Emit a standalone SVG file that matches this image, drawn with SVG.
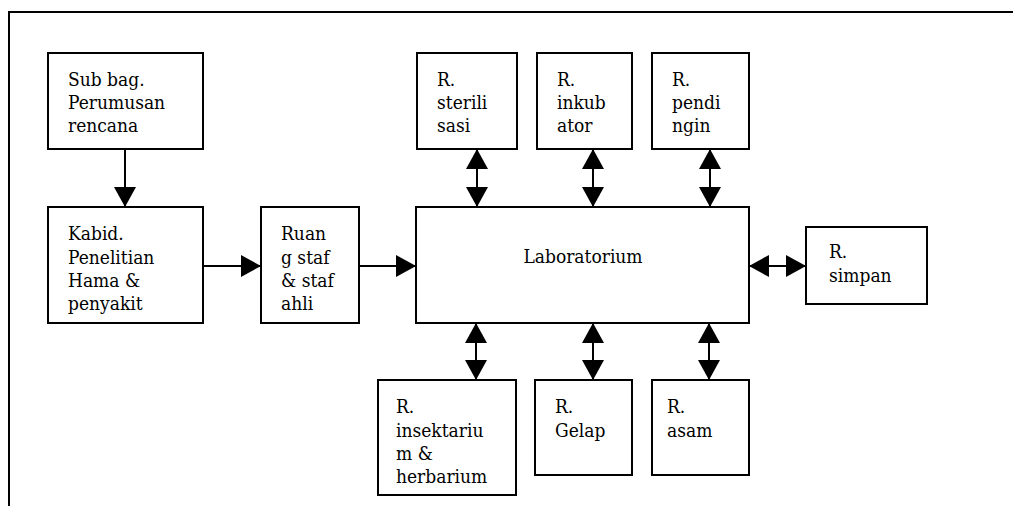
<svg xmlns="http://www.w3.org/2000/svg" width="1013" height="506" viewBox="0 0 1013 506">
  <style>
    .box { fill: #ffffff; stroke: #000000; stroke-width: 2; }
    .frame { fill: none; stroke: #000000; stroke-width: 2; }
    .link { fill: none; stroke: #000000; stroke-width: 2; }
    .one { marker-end: url(#tip); }
    .two { marker-start: url(#tip); marker-end: url(#tip); }
  </style>
  <defs>
    <marker id="tip" markerUnits="userSpaceOnUse" markerWidth="20" markerHeight="22" refX="20" refY="11" orient="auto-start-reverse" viewBox="0 0 20 22">
      <path d="M0,0 L20,11 L0,22 Z" fill="#000000"/>
    </marker>
  </defs>

  <rect width="1013" height="506" fill="#ffffff"/>

  <!-- outer frame: top and left edges only -->
  <path class="frame" d="M9,506 L9,12 L1013,12"/>

  <!-- connectors -->
  <g id="connectors">
    <line class="link one" x1="125" y1="150" x2="125" y2="207"/>
    <line class="link one" x1="203" y1="266" x2="261" y2="266"/>
    <line class="link one" x1="359" y1="266" x2="416" y2="266"/>
    <line class="link two" x1="477" y1="149" x2="477" y2="207"/>
    <line class="link two" x1="593" y1="149" x2="593" y2="207"/>
    <line class="link two" x1="710" y1="149" x2="710" y2="207"/>
    <line class="link two" x1="749" y1="266" x2="806" y2="266"/>
    <line class="link two" x1="476" y1="323" x2="476" y2="380"/>
    <line class="link two" x1="593" y1="323" x2="593" y2="380"/>
    <line class="link two" x1="709" y1="323" x2="709" y2="380"/>
  </g>

  <g font-family="'DejaVu Serif Condensed', 'DejaVu Serif', serif" font-stretch="condensed" font-size="19">
  <g id="sub-bag">
    <rect class="box" x="48" y="53" width="155" height="96"/>
    <text x="68" y="86">Sub bag.</text>
    <text x="68" y="109">Perumusan</text>
    <text x="68" y="132">rencana</text>
  </g>

  <g id="kabid">
    <rect class="box" x="48" y="207" width="155" height="116"/>
    <text x="68" y="240">Kabid.</text>
    <text x="68" y="264">Penelitian</text>
    <text x="68" y="287">Hama &amp;</text>
    <text x="68" y="310">penyakit</text>
  </g>

  <g id="ruang-staf">
    <rect class="box" x="261" y="207" width="98" height="116"/>
    <text x="281" y="240">Ruan</text>
    <text x="281" y="264">g staf</text>
    <text x="281" y="287">&amp; staf</text>
    <text x="281" y="310">ahli</text>
  </g>

  <g id="laboratorium">
    <rect class="box" x="416" y="207" width="333" height="116"/>
    <text x="583" y="263" text-anchor="middle">Laboratorium</text>
  </g>

  <g id="r-sterilisasi">
    <rect class="box" x="417" y="53" width="100" height="96"/>
    <text x="437" y="86">R.</text>
    <text x="437" y="109">sterili</text>
    <text x="437" y="132">sasi</text>
  </g>

  <g id="r-inkubator">
    <rect class="box" x="537" y="53" width="95" height="96"/>
    <text x="557" y="86">R.</text>
    <text x="557" y="109">inkub</text>
    <text x="557" y="132">ator</text>
  </g>

  <g id="r-pendingin">
    <rect class="box" x="652" y="53" width="97" height="96"/>
    <text x="672" y="86">R.</text>
    <text x="672" y="109">pendi</text>
    <text x="672" y="132">ngin</text>
  </g>

  <g id="r-simpan">
    <rect class="box" x="806" y="227" width="121" height="77"/>
    <text x="829" y="258">R.</text>
    <text x="829" y="282">simpan</text>
  </g>

  <g id="r-insektarium">
    <rect class="box" x="378" y="380" width="138" height="115"/>
    <text x="396" y="413">R.</text>
    <text x="396" y="437">insektariu</text>
    <text x="396" y="460">m &amp;</text>
    <text x="396" y="483">herbarium</text>
  </g>

  <g id="r-gelap">
    <rect class="box" x="535" y="380" width="97" height="95"/>
    <text x="555" y="413">R.</text>
    <text x="555" y="437">Gelap</text>
  </g>

  <g id="r-asam">
    <rect class="box" x="652" y="380" width="97" height="95"/>
    <text x="667" y="413">R.</text>
    <text x="667" y="437">asam</text>
  </g>
  </g>
</svg>
